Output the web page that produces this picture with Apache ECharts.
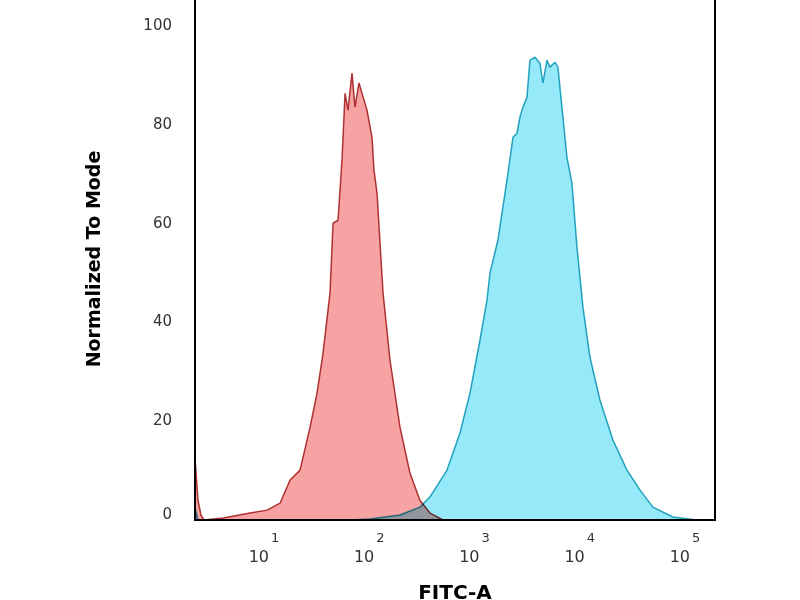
<!DOCTYPE html>
<html>
<head>
<meta charset="utf-8">
<script src="https://cdn.jsdelivr.net/npm/echarts@6/dist/echarts.min.js"></script>
<style>
html,body{margin:0;padding:0;background:#fff;}
#chart{width:800px;height:600px;}
</style>
</head>
<body>
<div id="chart"></div>
<script>
// Isotype control (red) histogram: FITC-A value, normalized-to-mode
const redX = [2.21, 2.36, 2.52, 2.69, 4.08, 7.36, 10.7, 14.2, 17.7, 22.0, 27.4, 31.9, 36.4, 42.4, 45.3, 50.5, 55.1, 58.9, 62.8, 68.6, 73.2, 79.9, 95.2, 106.3, 110.9, 118.6, 135.2, 157.5, 196, 244, 303, 378, 502];
const redY = [12.6, 4, 1, 0, 0.4, 1.4, 2.0, 3.4, 8.1, 10.1, 18.8, 25.7, 33.8, 46.0, 60.1, 60.7, 72.9, 86.4, 83.0, 90.5, 83.6, 88.5, 83.0, 77.5, 70.9, 66.2, 46.0, 32.4, 18.8, 9.5, 4.0, 1.4, 0];

// Stained sample (cyan) histogram
const cyanX = [2.21, 2.36, 65.6, 101.6, 196, 303, 378, 548, 728, 906, 1127, 1314, 1403, 1671, 2036, 2322, 2534, 2706, 2888, 3153, 3366, 3756, 4189, 4474, 4883, 5216, 5819, 6209, 6776, 7561, 8437, 9414, 10733, 12510, 15560, 20690, 28120, 37350, 49640, 76910, 130000];
const cyanY = [2.5, 0, 0, 0.2, 1.0, 2.6, 4.7, 10.1, 17.6, 25.7, 36.4, 44.5, 50.0, 56.7, 68.8, 77.5, 78.3, 81.6, 83.6, 85.6, 93.1, 93.7, 92.5, 88.5, 93.1, 91.7, 92.7, 91.7, 83.6, 73.5, 68.2, 55.3, 43.1, 33.0, 24.3, 16.2, 10.1, 6.1, 2.6, 0.6, 0];

const yTicks = [0, 20, 40, 60, 80, 100];
const xTickExponents = [1, 2, 3, 4, 5];

const xName = 'FITC-A';
const yName = 'Normalized To Mode';

function pairs(xs, ys) { return xs.map((x, i) => [x, ys[i]]); }

const chart = echarts.init(document.getElementById('chart'), null, { renderer: 'canvas' });

chart.setOption({
  animation: false,
  backgroundColor: '#ffffff',
  grid: {
    left: 195, right: 85, top: -2, bottom: 80,
    outerBoundsMode: 'none',
    containLabel: false,
    show: true, borderColor: '#000', borderWidth: 2, backgroundColor: 'transparent'
  },
  xAxis: {
    type: 'log',
    logBase: 10,
    min: 2.21,
    max: 193000,
    name: xName,
    nameLocation: 'middle',
    nameGap: 64,
    nameTextStyle: { fontFamily: 'DejaVu Sans', fontWeight: 'bold', fontSize: 20, color: '#000' },
    axisLine: { show: false },
    axisTick: { show: false },
    splitLine: { show: false },
    axisLabel: {
      margin: 12,
      formatter: function (v) {
        const l = Math.log10(v);
        const e = Math.round(l);
        if (Math.abs(l - e) > 1e-6 || xTickExponents.indexOf(e) < 0) return '';
        return '{b|10}{s|' + e + '}';
      },
      rich: {
        b: { fontFamily: 'DejaVu Sans', fontSize: 16, color: '#333', lineHeight: 34, verticalAlign: 'bottom' },
        s: { fontFamily: 'DejaVu Sans', fontSize: 13, color: '#333', lineHeight: 34, verticalAlign: 'top', padding: [0, 0, 0, 2] }
      }
    }
  },
  yAxis: {
    type: 'value',
    min: 0,
    max: 105.7,
    interval: 20,
    name: yName,
    nameLocation: 'middle',
    nameGap: 90,
    nameTextStyle: { fontFamily: 'DejaVu Sans', fontWeight: 'bold', fontSize: 19, color: '#000' },
    axisLine: { show: false },
    axisTick: { show: false },
    splitLine: { show: false },
    axisLabel: {
      margin: 23,
      fontFamily: 'DejaVu Sans',
      fontSize: 15,
      color: '#333',
      formatter: function (v) {
        if (yTicks.indexOf(v) < 0) return '';
        return v === 0 ? '{z|0}' : String(v);
      },
      rich: {
        z: { fontFamily: 'DejaVu Sans', fontSize: 15, color: '#333', padding: [0, 0, 10, 0] }
      }
    }
  },
  series: [
    {
      type: 'line',
      data: pairs(cyanX, cyanY),
      showSymbol: false,
      smooth: false,
      blendMode: 'multiply',
      lineStyle: { color: '#2AA9C0', width: 1.5 },
      areaStyle: { color: '#95E9F8', opacity: 1, origin: 'start' },
      z: 2
    },
    {
      type: 'line',
      data: pairs(redX, redY),
      showSymbol: false,
      smooth: false,
      blendMode: 'multiply',
      lineStyle: { color: '#B23B3B', width: 1.5 },
      areaStyle: { color: '#F8A3A3', opacity: 1, origin: 'start' },
      z: 3
    }
  ]
});
</script>
</body>
</html>
